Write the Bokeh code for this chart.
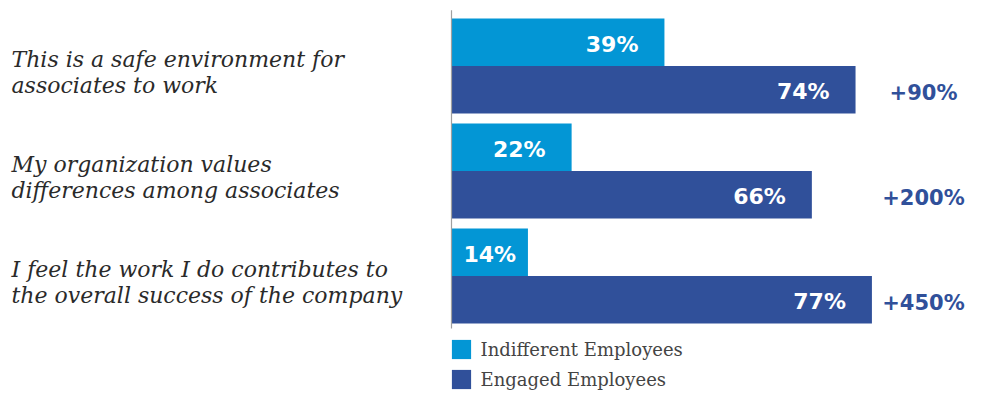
from bokeh.plotting import figure
from bokeh.models import Range1d, ColumnDataSource, Legend, LegendItem
from bokeh.core.properties import value
from bokeh.embed import file_html
from bokeh.resources import INLINE

# ---- data ----
categories = [
    "This is a safe environment for\nassociates to work",
    "My organization values\ndifferences among associates",
    "I feel the work I do contributes to\nthe overall success of the company",
]
indifferent = [39, 22, 14]
engaged = [74, 66, 77]
increase = ["+90%", "+200%", "+450%"]
series_names = ["Indifferent Employees", "Engaged Employees"]

LIGHT = "#0396d5"
DARK = "#30509a"

W, H = 967, 390
PX_PER_UNIT = 5.46
ZERO_PX = 451
GROUP_PX = 105.0
FIRST_CENTER_PX = 65.5
BAR_H = 0.452
LBL_SIZE = 22
LBL_W = 2.39 * LBL_SIZE  # approx width of "NN%" in DejaVu Sans Bold

x_range = Range1d(-ZERO_PX / PX_PER_UNIT, (W - ZERO_PX) / PX_PER_UNIT)
y_range = Range1d((H - FIRST_CENTER_PX) / GROUP_PX, -FIRST_CENTER_PX / GROUP_PX)

p = figure(width=W, height=H, x_range=x_range, y_range=y_range,
           output_backend="svg", toolbar_location=None, min_border=0)
p.axis.visible = False
p.grid.visible = False
p.outline_line_color = None
p.background_fill_color = "white"


def inside_offset(v):
    bar_px = v * PX_PER_UNIT
    return -min(26.0, bar_px - LBL_W - 12.0)


idx = list(range(len(categories)))
src = ColumnDataSource(dict(
    y_light=[i - BAR_H / 2 for i in idx],
    y_dark=[i + BAR_H / 2 for i in idx],
    indiff=indifferent,
    eng=engaged,
    indiff_lbl=[f"{v}%" for v in indifferent],
    eng_lbl=[f"{v}%" for v in engaged],
    indiff_off=[inside_offset(v) for v in indifferent],
    eng_off=[inside_offset(v) for v in engaged],
    inc=increase,
))

r1 = p.hbar(y="y_light", left=0, right="indiff", height=BAR_H, source=src,
            fill_color=LIGHT, line_color=None)
r2 = p.hbar(y="y_dark", left=0, right="eng", height=BAR_H, source=src,
            fill_color=DARK, line_color=None)

# vertical axis line
p.segment(x0=[0], x1=[0], y0=[-0.53], y1=[2.5], line_color="#a0a0a0", line_width=1.2)

# value labels inside bars
bold = value("DejaVu Sans")
p.text(x="indiff", y="y_light", text="indiff_lbl", source=src, x_offset="indiff_off", y_offset=2,
       text_align="right", text_baseline="middle", text_color="white",
       text_font=bold, text_font_style="bold", text_font_size=f"{LBL_SIZE}px")
p.text(x="eng", y="y_dark", text="eng_lbl", source=src, x_offset="eng_off", y_offset=2,
       text_align="right", text_baseline="middle", text_color="white",
       text_font=bold, text_font_style="bold", text_font_size=f"{LBL_SIZE}px")

# increase labels
LABEL_X = (923 - ZERO_PX) / PX_PER_UNIT
p.text(x=LABEL_X, y="y_dark", text="inc", source=src, y_offset=3,
       text_align="center", text_baseline="middle", text_color=DARK,
       text_font=bold, text_font_style="bold", text_font_size="21px")

# category labels
CAT_X = (11 - ZERO_PX) / PX_PER_UNIT
line1 = [c.split("\n")[0] for c in categories]
line2 = [c.split("\n")[1] for c in categories]
cat_src = ColumnDataSource(dict(y=idx, l1=line1, l2=line2))
for col, off in (("l1", -7), ("l2", 19)):
    p.text(x=CAT_X, y="y", text=col, source=cat_src, y_offset=off,
           text_align="left", text_baseline="middle", text_color="#2a2a2a",
           text_font=value("DejaVu Serif"), text_font_style="italic",
           text_font_size="22px")

legend = Legend(items=[LegendItem(label=series_names[0], renderers=[r1]),
                       LegendItem(label=series_names[1], renderers=[r2])],
                location=(448.6, -1), orientation="vertical",
                glyph_width=24, glyph_height=24, label_height=24,
                spacing=6, padding=0, margin=0, label_standoff=8,
                label_text_font="DejaVu Serif", label_text_font_size="18px",
                label_text_color="#444444", label_text_baseline="middle",
                border_line_color=None, background_fill_alpha=0)
p.add_layout(legend, "center")

open("out.html", "w").write(file_html(p, INLINE))
